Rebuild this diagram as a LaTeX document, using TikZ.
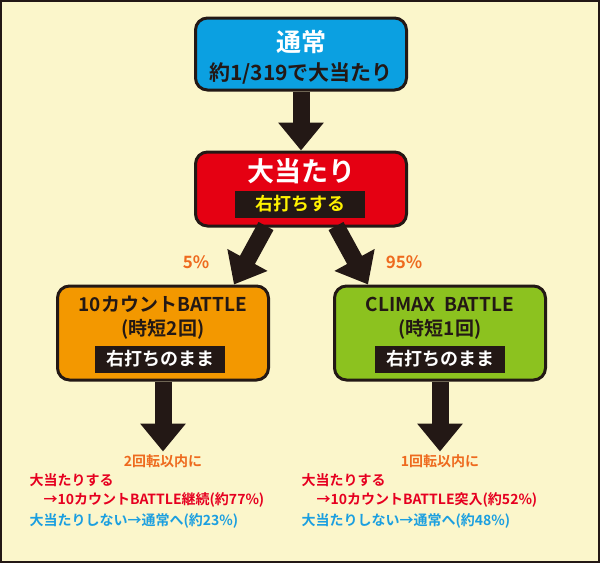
\documentclass[tikz,border=0pt]{standalone}
\usepackage{fontspec}
\setmainfont{Noto Sans CJK JP}[BoldFont={* Bold}]
\usetikzlibrary{arrows.meta,positioning}
\definecolor{bg}{HTML}{FBF6CB}
\definecolor{nblue}{HTML}{0BA0E1}
\definecolor{nred}{HTML}{E50012}
\definecolor{norange}{HTML}{F39800}
\definecolor{ngreen}{HTML}{8CC21F}
\definecolor{tor}{HTML}{EE6A1E}
\definecolor{tred}{HTML}{E60020}
\definecolor{tblue}{HTML}{1B9FE0}
\definecolor{darr}{HTML}{231815}
\tikzset{
  box/.style={draw=darr, line width=3pt, rounded corners=12pt, minimum width=211pt, minimum height=72pt, align=center, font=\bfseries},
  band/.style={fill=darr, minimum width=130pt, minimum height=27pt, inner sep=0pt, font=\bfseries\fontsize{18}{18}\selectfont},
  flow/.style={line width=17pt, darr, -{Triangle[width=44pt,length=28pt]}},
  note/.style={anchor=west, font=\bfseries\fontsize{14}{14}\selectfont}
}
\begin{document}
\begin{tikzpicture}[x=1pt,y=-1pt]
\fill[bg] (0,0) rectangle (600,563);
\draw[darr, line width=2pt] (1,1) rectangle (599,562);
\useasboundingbox (0,0) rectangle (600,563);
% boxes
\node[box, fill=nblue] (normal) at (301,54) {};
\node[white, font=\bfseries\fontsize{25}{25}\selectfont] at (301,42) {通常};
\node[darr, font=\bfseries\fontsize{21}{21}\selectfont] at (301,73) {約1/319で大当たり};
\node[box, fill=nred, minimum height=74pt] (hit) at (301,189) {};
\node[white, font=\bfseries\fontsize{27}{27}\selectfont] at (301,171) {大当たり};
\node[band, text={yellow}] (hitband) at (300,204) {右打ちする};
\node[box, fill=norange, minimum height=94pt] (ten) at (163,333) {};
\node[darr, font=\bfseries\fontsize{19}{19}\selectfont] at (163,304) {10カウントBATTLE};
\node[darr, font=\bfseries\fontsize{19}{19}\selectfont] at (163,329) {(時短2回)};
\node[band, text=white] (tenband) at (160,359) {右打ちのまま};
\node[box, fill=ngreen, minimum height=94pt] (climax) at (440,333) {};
\node[darr, font=\bfseries\fontsize{19}{19}\selectfont] at (440,304) {CLIMAX\ \ BATTLE};
\node[darr, font=\bfseries\fontsize{19}{19}\selectfont] at (440,329) {(時短1回)};
\node[band, text=white] (climaxband) at (440,359) {右打ちのまま};
% arrows
\draw[flow] (normal.south) -- (hit.north);
\draw[flow] (266,226) -- (ten.north-|234,0);
\draw[flow] (336,226) -- (climax.north-|368,0);
\draw[flow] (ten.south) -- ++(0,70);
\draw[flow] (climax.south) -- ++(0,70);
\node[tor, font=\bfseries\fontsize{17}{17}\selectfont] (p5) at (196,262) {5\%};
\node[tor, font=\bfseries\fontsize{17}{17}\selectfont] (p95) at (404,262) {95\%};
% notes
\node[tor, font=\bfseries\fontsize{14}{14}\selectfont] at (163,461) {2回転以内に};
\node[note, tred] at (26,480) {大当たりする};
\node[note, tred] at (40,500) {→10カウントBATTLE継続(約77\%)};
\node[note, tblue] at (26,521) {大当たりしない→通常へ(約23\%)};
\node[tor, font=\bfseries\fontsize{14}{14}\selectfont] at (440,461) {1回転以内に};
\node[note, tred] at (298,480) {大当たりする};
\node[note, tred] at (313,500) {→10カウントBATTLE突入(約52\%)};
\node[note, tblue] at (298,521) {大当たりしない→通常へ(約48\%)};
\end{tikzpicture}
\end{document}
